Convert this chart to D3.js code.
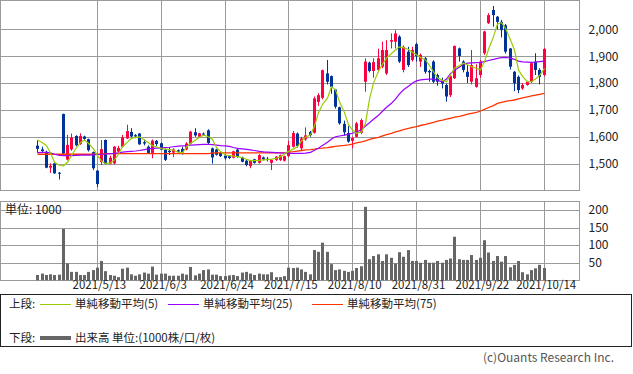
<!DOCTYPE html>
<html><head><meta charset="utf-8">
<script src="https://cdn.jsdelivr.net/npm/d3@7"></script>
<style>
body{margin:0;background:#fff;}
svg text{font-family:"Noto Sans CJK JP","Noto Sans",sans-serif;}
</style></head>
<body><svg id="c" width="633" height="374"></svg>
<script>
const dates = [
"2021/4/19","2021/4/20","2021/4/21","2021/4/22","2021/4/23","2021/4/26","2021/4/27","2021/4/28","2021/4/30",
"2021/5/6","2021/5/7","2021/5/10","2021/5/11","2021/5/12","2021/5/13","2021/5/14","2021/5/17","2021/5/18","2021/5/19","2021/5/20","2021/5/21","2021/5/24","2021/5/25","2021/5/26","2021/5/27","2021/5/28","2021/5/31",
"2021/6/1","2021/6/2","2021/6/3","2021/6/4","2021/6/7","2021/6/8","2021/6/9","2021/6/10","2021/6/11","2021/6/14","2021/6/15","2021/6/16","2021/6/17","2021/6/18","2021/6/21","2021/6/22","2021/6/23","2021/6/24","2021/6/25","2021/6/28","2021/6/29","2021/6/30",
"2021/7/1","2021/7/2","2021/7/5","2021/7/6","2021/7/7","2021/7/8","2021/7/9","2021/7/12","2021/7/13","2021/7/14","2021/7/15","2021/7/16","2021/7/19","2021/7/20","2021/7/21","2021/7/26","2021/7/27","2021/7/28","2021/7/29","2021/7/30",
"2021/8/2","2021/8/3","2021/8/4","2021/8/5","2021/8/6","2021/8/10","2021/8/11","2021/8/12","2021/8/13","2021/8/16","2021/8/17","2021/8/18","2021/8/19","2021/8/20","2021/8/23","2021/8/24","2021/8/25","2021/8/26","2021/8/27","2021/8/30","2021/8/31",
"2021/9/1","2021/9/2","2021/9/3","2021/9/6","2021/9/7","2021/9/8","2021/9/9","2021/9/10","2021/9/13","2021/9/14","2021/9/15","2021/9/16","2021/9/17","2021/9/21","2021/9/22","2021/9/24","2021/9/27","2021/9/28","2021/9/29","2021/9/30",
"2021/10/1","2021/10/4","2021/10/5","2021/10/6","2021/10/7","2021/10/8","2021/10/11","2021/10/12","2021/10/13","2021/10/14"];

const open = [1567,1553,1544,1485,1501,1466,1685,1515,1553,1603,1573,1601,1591,1543,1474,1506,1588,1500,1501,1545,
1563,1594,1618,1606,1612,1580,1563,1540,1585,1576,1553,1548,1541,1550,1555,1553,1574,1617,1600,1612,
1624,1557,1553,1540,1530,1528,1522,1552,1523,1511,1491,1516,1503,1523,1518,1503,1514,1514,1511,1528,
1563,1612,1557,1590,1618,1615,1730,1745,1836,1826,1776,1710,1648,1614,1585,1600,1615,1805,1876,1845,
1849,1861,1836,1954,1954,1973,1849,1917,1886,1945,1880,1892,1845,1880,1830,1810,1793,1755,1818,1929,
1880,1842,1805,1786,1830,1911,2023,2072,2047,2028,2015,1929,1842,1823,1780,1793,1805,1880,1849,1830];
const high = [1587,1563,1548,1501,1503,1469,1686,1607,1612,1606,1613,1604,1593,1545,1476,1588,1590,1530,1566,1566,
1607,1645,1632,1610,1614,1590,1568,1590,1588,1578,1556,1562,1557,1553,1562,1580,1622,1632,1615,1616,
1628,1560,1555,1545,1535,1532,1548,1555,1526,1514,1512,1518,1535,1526,1525,1516,1528,1534,1530,1585,
1622,1616,1600,1635,1622,1750,1762,1850,1886,1828,1778,1712,1660,1640,1600,1655,1668,1892,1880,1892,
1928,1954,1960,1985,1997,1978,1940,1935,1935,1950,1910,1897,1850,1885,1835,1820,1798,1830,1940,1932,
1885,1867,1923,1870,1885,1995,2060,2087,2050,2035,2020,1930,1845,1828,1800,1808,1876,1911,1855,1930];
const low = [1540,1540,1483,1466,1462,1441,1535,1512,1548,1565,1570,1586,1545,1476,1413,1495,1497,1497,1498,1540,
1560,1592,1598,1595,1570,1568,1537,1520,1565,1550,1510,1532,1524,1540,1533,1550,1572,1600,1598,1604,
1572,1500,1530,1525,1515,1517,1520,1522,1505,1490,1483,1500,1500,1512,1508,1476,1510,1510,1508,1525,
1560,1560,1550,1585,1600,1612,1715,1740,1795,1760,1705,1645,1605,1578,1557,1598,1610,1768,1840,1820,
1840,1855,1830,1929,1929,1875,1840,1860,1880,1880,1860,1835,1805,1800,1790,1780,1731,1748,1815,1880,
1840,1800,1795,1783,1820,1905,2020,2010,2000,1970,1910,1850,1770,1762,1775,1790,1800,1830,1795,1825];
const close = [1555,1547,1485,1492,1464,1464,1538,1570,1597,1568,1603,1592,1550,1483,1424,1554,1500,1522,1563,1558,
1598,1621,1601,1601,1572,1575,1540,1586,1573,1552,1514,1543,1553,1545,1542,1575,1619,1605,1613,1608,
1577,1523,1533,1528,1520,1521,1546,1525,1507,1495,1510,1503,1532,1516,1514,1514,1526,1532,1528,1569,
1614,1566,1594,1605,1606,1743,1755,1848,1805,1786,1712,1650,1617,1582,1595,1650,1662,1880,1845,1878,
1892,1923,1923,1960,1985,1880,1935,1867,1923,1900,1905,1842,1840,1805,1805,1798,1750,1826,1938,1901,
1849,1823,1867,1818,1880,1992,2053,2053,2028,1997,1917,1861,1799,1774,1793,1805,1874,1849,1823,1927];
const volume = [15,19,15,17,15,16,146,48,24,24,15,15,24,29,36,55,26,15,13,9,
33,36,17,13,17,22,19,39,16,19,19,13,13,13,19,16,38,14,19,29,
31,16,16,12,12,14,15,12,22,24,19,15,19,17,17,23,9,9,12,36,
35,36,31,24,17,86,81,107,81,46,29,31,27,24,27,35,40,209,60,69,
74,55,74,64,48,80,67,86,55,55,50,58,50,50,55,50,58,62,124,60,
58,58,72,58,64,114,79,55,69,53,69,37,44,55,23,17,29,34,44,35];
const ma5 = [1588,1578,1567,1540,1505,1493,1492,1505,1530,1560,1578,1588,1576,1555,1530,1510,1500,1503,1514,1535,
1563,1580,1594,1598,1600,1588,1578,1567,1562,1556,1554,1552,1550,1542,1540,1562,1575,1588,1598,1606,
1600,1590,1560,1545,1532,1530,1528,1526,1522,1516,1511,1511,1512,1514,1515,1517,1520,1526,1536,1545,
1555,1563,1585,1598,1607,1640,1690,1720,1745,1786,1775,1730,1690,1645,1625,1613,1618,1650,1740,1800,
1845,1870,1893,1910,1923,1935,1932,1925,1915,1905,1895,1886,1865,1842,1820,1810,1805,1830,1855,1865,
1874,1868,1861,1855,1849,1880,1925,1973,2020,2025,2004,1960,1923,1849,1825,1805,1805,1815,1828,1855];
const ma25 = [1541,1542,1542,1540,1535,1531,1530,1530,1530,1531,1532,1532,1532,1533,1534,1535,1536,1537,1538,1540,
1543,1545,1546,1547,1549,1552,1555,1557,1558,1559,1560,1561,1563,1565,1566,1567,1569,1570,1571,1572,
1572,1571,1569,1567,1566,1564,1560,1557,1555,1553,1551,1549,1546,1544,1543,1542,1541,1540,1539,1538,
1538,1538,1538,1539,1542,1550,1557,1568,1580,1592,1600,1603,1606,1610,1613,1618,1626,1640,1652,1665,
1680,1695,1710,1725,1740,1760,1775,1788,1800,1808,1812,1814,1815,1815,1810,1805,1815,1835,1848,1860,
1870,1874,1875,1876,1877,1880,1884,1888,1892,1895,1896,1893,1888,1882,1879,1878,1877,1878,1880,1882];
const ma75 = [1535,1535,1535,1535,1535,1535,1535,1535,1535,1535,1535,1535,1535,1535,1535,1535,1537,1537,1537,1537,
1537,1537,1537,1537,1537,1537,1537,1537,1537,1537,1537,1537,1537,1537,1537,1537,1537,1537,1537,1537,
1537,1540,1540,1540,1540,1540,1540,1540,1540,1540,1540,1540,1540,1540,1540,1540,1540,1540,1540,1543,
1545,1547,1549,1551,1552,1554,1557,1558,1560,1562,1564,1566,1568,1570,1573,1577,1581,1585,1590,1594,
1598,1603,1608,1613,1618,1622,1627,1631,1635,1638,1642,1646,1650,1654,1658,1662,1666,1669,1673,1676,
1680,1684,1687,1691,1696,1702,1709,1716,1724,1728,1732,1735,1737,1741,1745,1749,1752,1755,1758,1762];

const tickDates = ["2021/5/13","2021/6/3","2021/6/24","2021/7/15","2021/8/10","2021/8/31","2021/9/22","2021/10/14"];
const priceTicks = [1500,1600,1700,1800,1900,2000];
const volTicks = [50,100,150,200];

const svg = d3.select("#c");
const L = 0.5, R = 579.5;
const T1 = 0.5, B1 = 190.5, T2 = 201.5, B2 = 280.5;
const GRID = "#9a9a9a";
const UP = "#ff0040", DOWN = "#003399";
const FONT = "Noto Sans CJK JP";

const x = d3.scalePoint().domain(dates).range([37.3, 543.7]);
const y = d3.scaleLinear().domain([1400, 2100]).range([190.5, 2.5]);
const yv = d3.scaleLinear().domain([0, 200]).range([280.3, 210]);
const px = d => Math.round(x(d));

// Grid: top panel
const g1 = svg.append("g");
g1.selectAll("line.h").data(priceTicks).join("line")
  .attr("x1", L).attr("x2", R)
  .attr("y1", d => Math.round(y(d)) + 0.5).attr("y2", d => Math.round(y(d)) + 0.5)
  .attr("stroke", GRID);
g1.selectAll("line.v").data(tickDates).join("line")
  .attr("x1", d => px(d) + 0.5).attr("x2", d => px(d) + 0.5)
  .attr("y1", T1).attr("y2", B1).attr("stroke", GRID);
g1.append("rect").attr("x", L).attr("y", T1).attr("width", R - L).attr("height", B1 - T1)
  .attr("fill", "none").attr("stroke", GRID);

// Grid: volume panel
const g2 = svg.append("g");
g2.selectAll("line.h").data(volTicks).join("line")
  .attr("x1", L).attr("x2", R)
  .attr("y1", d => Math.round(yv(d)) + 0.5).attr("y2", d => Math.round(yv(d)) + 0.5)
  .attr("stroke", GRID);
g2.selectAll("line.v").data(tickDates).join("line")
  .attr("x1", d => px(d) + 0.5).attr("x2", d => px(d) + 0.5)
  .attr("y1", T2).attr("y2", B2).attr("stroke", GRID);
g2.append("rect").attr("x", L).attr("y", T2).attr("width", R - L).attr("height", B2 - T2)
  .attr("fill", "none").attr("stroke", GRID);

// Axis labels
const styleText = g => g.selectAll("text").attr("font-size", 12).attr("fill", "#222").attr("font-family", FONT);
const yAxis = d3.axisRight(y).tickValues(priceTicks).tickSize(0).tickPadding(9).tickFormat(d3.format(","));
svg.append("g").attr("transform", `translate(${R},0)`).call(yAxis)
  .call(g => g.select(".domain").remove()).call(styleText);
const vAxis = d3.axisRight(yv).tickValues(volTicks).tickSize(0).tickPadding(9);
svg.append("g").attr("transform", `translate(${R},0)`).call(vAxis)
  .call(g => g.select(".domain").remove()).call(styleText);
const xAxis = d3.axisBottom(x).tickValues(tickDates).tickSize(0).tickPadding(0);
svg.append("g").attr("transform", `translate(2,${B2})`).call(xAxis)
  .call(g => g.select(".domain").remove()).call(styleText)
  .call(g => g.selectAll("text").attr("font-size", 11.5));

svg.append("text").attr("x", 5).attr("y", 213.5).attr("font-size", 12).attr("fill", "#222").text("単位: 1000");

// Volume bars
const idx = d3.range(dates.length);
svg.append("g").selectAll("rect").data(idx).join("rect")
  .attr("x", i => px(dates[i]) - 1).attr("width", 3)
  .attr("y", i => yv(volume[i])).attr("height", i => yv(0) - yv(volume[i]))
  .attr("fill", "#666666");

// Candles
const cg = svg.append("g");
cg.selectAll("line").data(idx).join("line")
  .attr("x1", i => px(dates[i]) + 0.5).attr("x2", i => px(dates[i]) + 0.5)
  .attr("y1", i => y(high[i])).attr("y2", i => y(low[i]))
  .attr("stroke", i => close[i] >= open[i] ? UP : DOWN).attr("stroke-width", 1);
cg.selectAll("rect").data(idx).join("rect")
  .attr("x", i => px(dates[i]) - 1).attr("width", 3)
  .attr("y", i => y(Math.max(open[i], close[i])))
  .attr("height", i => Math.max(1, Math.abs(y(open[i]) - y(close[i]))))
  .attr("fill", i => close[i] >= open[i] ? UP : DOWN);

// Moving averages
const mkLine = arr => d3.line().x((d, i) => px(dates[i]) + 0.5).y(d => y(d))(arr);
svg.append("path").attr("d", mkLine(ma75)).attr("fill", "none").attr("stroke", "#ff3300").attr("stroke-width", 1.3);
svg.append("path").attr("d", mkLine(ma25)).attr("fill", "none").attr("stroke", "#9900ff").attr("stroke-width", 1.2);
svg.append("path").attr("d", mkLine(ma5)).attr("fill", "none").attr("stroke", "#99cc00").attr("stroke-width", 1.2);

// Legend
const lg = svg.append("g");
lg.append("rect").attr("x", 0.5).attr("y", 294.5).attr("width", 631).attr("height", 52)
  .attr("fill", "none").attr("stroke", "#222");
const legendItems = [
  {label: "単純移動平均(5)", color: "#99cc00", x: 40},
  {label: "単純移動平均(25)", color: "#9900ff", x: 168},
  {label: "単純移動平均(75)", color: "#ff3300", x: 312}
];
const row1 = 304, row2 = 338;
const LF = 11.5;
lg.append("text").attr("x", 9).attr("y", row1 + 4).attr("font-size", LF).attr("fill", "#222").text("上段:");
legendItems.forEach(it => {
  lg.append("line").attr("x1", it.x).attr("x2", it.x + 31).attr("y1", row1 + 0.5).attr("y2", row1 + 0.5)
    .attr("stroke", it.color).attr("stroke-width", 1);
  lg.append("text").attr("x", it.x + 35).attr("y", row1 + 4).attr("font-size", LF).attr("fill", "#222").text(it.label);
});
lg.append("text").attr("x", 9).attr("y", row2 + 4).attr("font-size", LF).attr("fill", "#222").text("下段:");
lg.append("line").attr("x1", 40).attr("x2", 71).attr("y1", row2).attr("y2", row2)
  .attr("stroke", "#666666").attr("stroke-width", 4);
lg.append("text").attr("x", 75).attr("y", row2 + 4).attr("font-size", LF).attr("fill", "#222").text("出来高 単位:(1000株/口/枚)");

svg.append("text").attr("x", 614).attr("y", 362).attr("text-anchor", "end").attr("font-size", 12)
  .attr("fill", "#555").text("(c)Ouants Research Inc.");
</script></body></html>
